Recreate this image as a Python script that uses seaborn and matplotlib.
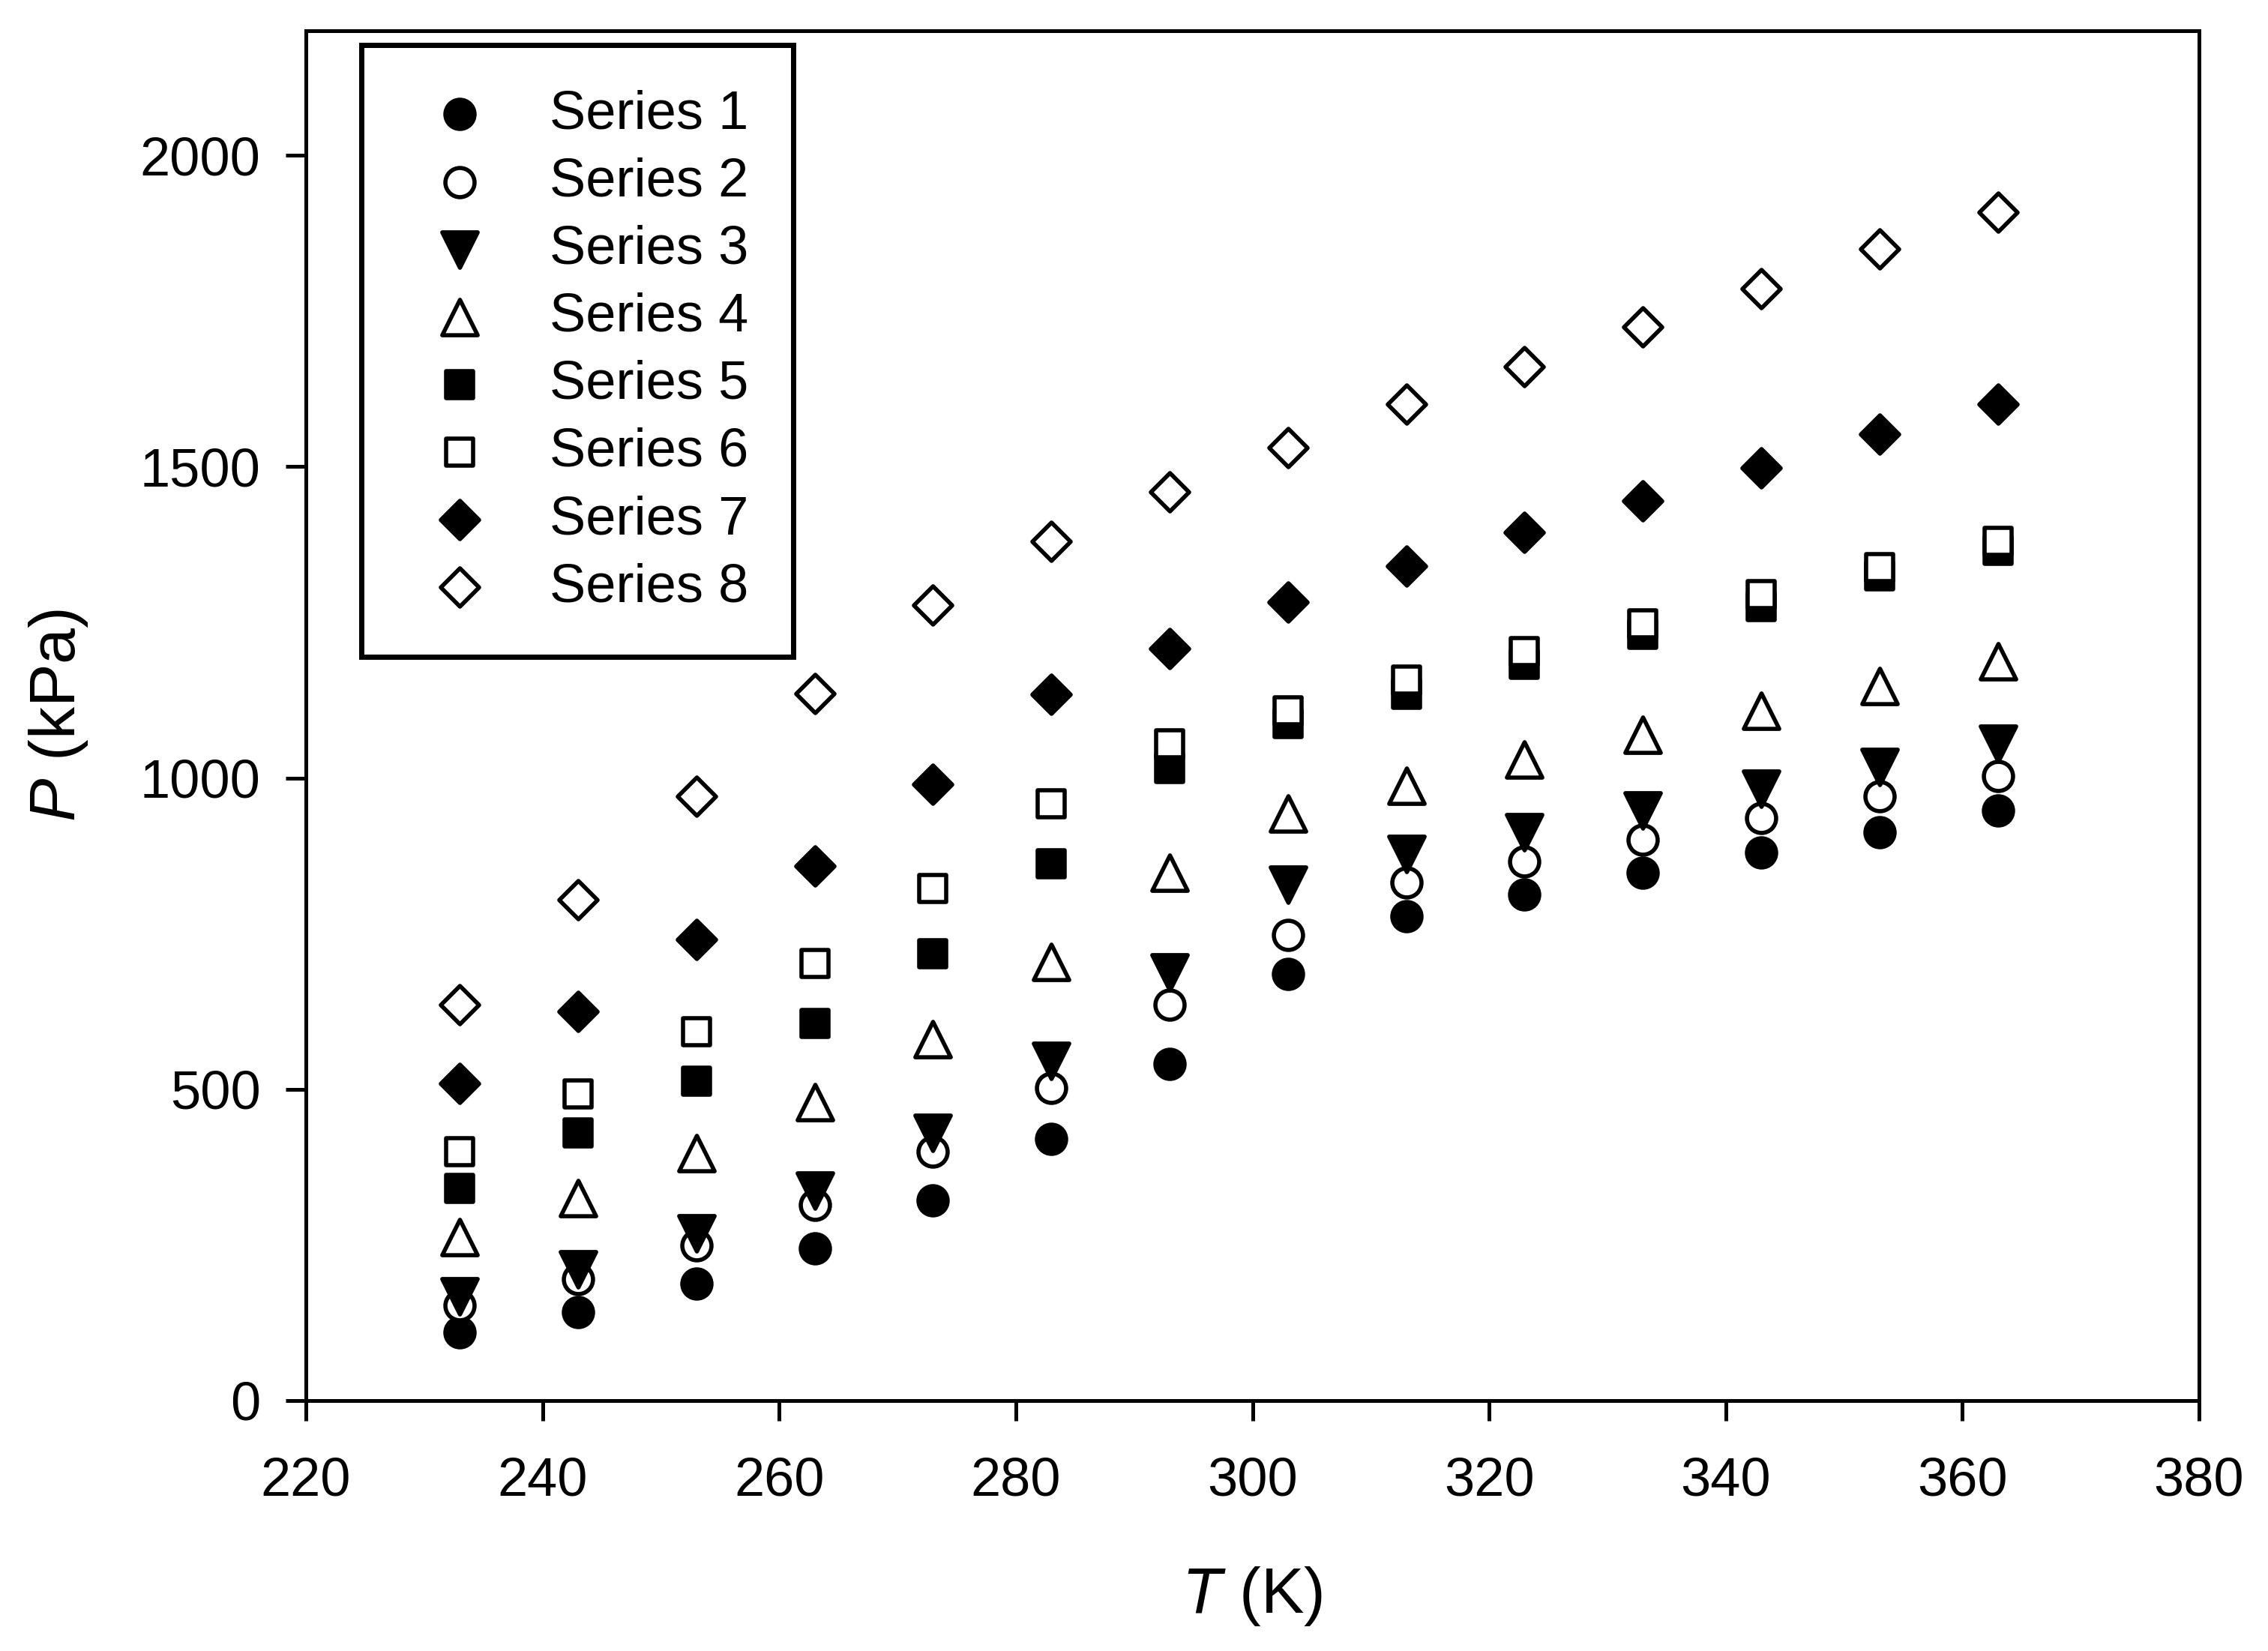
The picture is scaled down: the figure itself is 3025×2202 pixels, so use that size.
import matplotlib
matplotlib.use("Agg")
import matplotlib.pyplot as plt
import seaborn as sns
import pandas as pd

# ---- data ----
T = [233, 243, 253, 263, 273, 283, 293, 303, 313, 323, 333, 343, 353, 363]
series_1 = [109, 142, 188, 244, 321, 420, 541, 685, 778, 813, 848, 880, 913, 948]
series_2 = [153, 195, 249, 314, 400, 502, 636, 748, 832, 866, 901, 936, 971, 1003]
series_3 = [167, 211, 269, 337, 430, 546, 688, 829, 878, 913, 948, 983, 1017, 1055]
series_4 = [262, 325, 397, 479, 581, 704, 848, 943, 987, 1029, 1069, 1108, 1148, 1187]
series_5 = [341, 430, 513, 606, 718, 862, 1015, 1087, 1134, 1182, 1231, 1275, 1324, 1366]
series_6 = [400, 492, 592, 702, 822, 959, 1055, 1108, 1157, 1203, 1247, 1294, 1338, 1380]
series_7 = [509, 625, 741, 859, 990, 1134, 1208, 1282, 1340, 1394, 1445, 1498, 1552, 1600]
series_8 = [636, 804, 971, 1136, 1278, 1380, 1459, 1531, 1600, 1661, 1724, 1786, 1849, 1909]
labels = ["Series 1", "Series 2", "Series 3", "Series 4",
          "Series 5", "Series 6", "Series 7", "Series 8"]
x_ticks = [220, 240, 260, 280, 300, 320, 340, 360, 380]
y_ticks = [0, 500, 1000, 1500, 2000]

all_series = [series_1, series_2, series_3, series_4,
              series_5, series_6, series_7, series_8]
markers = ["o", "o", "v", "^", "s", "s", "D", "D"]
filled = [True, False, True, False, True, False, True, False]
msize = [14.0, 14.0, 17.0, 17.0, 13.3, 13.3, 13.0, 13.0]  # points

sns.set_theme(style="ticks")
plt.rcParams["font.family"] = ["Liberation Sans", "DejaVu Sans"]
plt.rcParams["mathtext.fontset"] = "custom"
plt.rcParams["mathtext.rm"] = "Liberation Sans"
plt.rcParams["mathtext.it"] = "Liberation Sans:italic"
for k in ["text.color", "axes.labelcolor", "xtick.color", "ytick.color",
          "axes.edgecolor"]:
    plt.rcParams[k] = "black"

DPI = 200
fig = plt.figure(figsize=(3025 / DPI, 2202 / DPI), dpi=DPI)
ax = fig.add_axes([408 / 3025, 1 - 1868 / 2202, (2933 - 408) / 3025, (1868 - 41) / 2202])

for vals, lab, m, f, ms in zip(all_series, labels, markers, filled, msize):
    df = pd.DataFrame({"T": T, "P": vals})
    sns.scatterplot(data=df, x="T", y="P", ax=ax, marker=m, s=ms ** 2,
                    facecolor="black" if f else "white", edgecolor="black",
                    linewidth=2.0, label=lab, zorder=3)
    coll = ax.collections[-1]
    coll.set_facecolor("black" if f else "white")
    coll.set_edgecolor("black")
    coll.set_linewidth(2.0)

ax.set_xlim(220, 380)
ax.set_ylim(0, 2200)
ax.set_xticks(x_ticks)
ax.set_yticks(y_ticks)
ax.minorticks_off()

for sp in ax.spines.values():
    sp.set_visible(True)
    sp.set_linewidth(1.8)
    sp.set_color("black")

ax.tick_params(axis="both", which="major", direction="out", length=9.7,
               width=1.8, color="black", labelcolor="black", labelsize=26,
               top=False, right=False)
ax.tick_params(axis="x", pad=17)
ax.tick_params(axis="y", pad=12)

ax.set_xlabel(r"$T$ (K)", fontsize=31, labelpad=28, color="black")
ax.set_ylabel(r"$P$ (kPa)", fontsize=31, labelpad=24, color="black")

leg = ax.legend(loc="upper left", bbox_to_anchor=(0.0293, 0.9895),
                borderaxespad=0, frameon=True, fancybox=False, fontsize=26,
                scatterpoints=1, handlelength=2.0, handletextpad=0.66,
                borderpad=0.82, labelspacing=0.32)
frame = leg.get_frame()
frame.set_edgecolor("black")
frame.set_linewidth(2.5)
frame.set_alpha(1)
frame.set_facecolor("white")
for t in leg.get_texts():
    t.set_color("black")

fig.savefig("out.png", dpi=DPI, facecolor="white")
